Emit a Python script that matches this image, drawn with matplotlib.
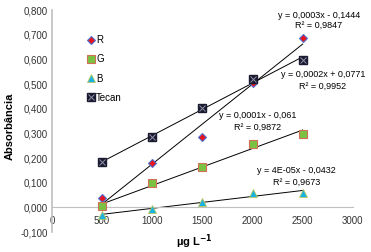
import numpy as np
import matplotlib
matplotlib.use("Agg")
import matplotlib.pyplot as plt
from matplotlib.legend_handler import HandlerTuple

conc = [500, 1000, 1500, 2000, 2500]
r_vals = [0.037, 0.179, 0.285, 0.504, 0.685]
g_vals = [0.004, 0.097, 0.163, 0.258, 0.298]
b_vals = [-0.030, -0.005, 0.020, 0.057, 0.060]
tecan_vals = [0.183, 0.285, 0.404, 0.520, 0.597]

eq_r = ("y = 0,0003x - 0,1444", "R² = 0,9847")
eq_g = ("y = 0,0001x - 0,061", "R² = 0,9872")
eq_b = ("y = 4E-05x - 0,0432", "R² = 0,9673")
eq_t = ("y = 0,0002x + 0,0771", "R² = 0,9952")

plt.rcParams['font.family'] = ['Liberation Sans', 'DejaVu Sans']

fig = plt.figure(figsize=(3.71, 2.52), dpi=100)
ax = fig.add_axes([0.140, 0.079, 0.811, 0.881])

x = np.array(conc)
xs = np.array([conc[0], conc[-1]])
for vals in (r_vals, g_vals, b_vals, tecan_vals):
    k, b = np.polyfit(x, vals, 1)
    ax.plot(xs, k * xs + b, color='black', lw=0.7, zorder=2)

hr, = ax.plot(conc, r_vals, ls='none', marker='D', ms=4.5, mfc='#e8141c',
              mec='#4f6fd0', mew=0.8, zorder=3)
hg, = ax.plot(conc, g_vals, ls='none', marker='s', ms=5.5, mfc='#7cc242',
              mec='#d0705a', mew=0.8, zorder=3)
hb, = ax.plot(conc, b_vals, ls='none', marker='^', ms=5.5, mfc='#1ab2e0',
              mec='#b8c860', mew=0.6, zorder=3)
ht1, = ax.plot(conc, tecan_vals, ls='none', marker='s', ms=5.5, mfc='#1a1a30',
               mec='#1a1a30', zorder=3)
ht2, = ax.plot(conc, tecan_vals, ls='none', marker='x', ms=4, mec='#9090a8',
               mew=0.7, zorder=4)

ax.legend([hr, hg, hb, (ht1, ht2)], ['R', 'G', 'B', 'Tecan'],
          handler_map={tuple: HandlerTuple(ndivide=1)},
          loc='upper left', bbox_to_anchor=(0.105, 0.905), frameon=False,
          fontsize=7, handlelength=0.7, handletextpad=0.2, labelspacing=0.95,
          borderaxespad=0)

fs = 6.5
ax.text(2660, 0.780, eq_r[0], ha='center', va='center', fontsize=fs)
ax.text(2660, 0.738, eq_r[1], ha='center', va='center', fontsize=fs)
ax.text(2700, 0.540, eq_t[0], ha='center', va='center', fontsize=fs)
ax.text(2700, 0.492, eq_t[1], ha='center', va='center', fontsize=fs)
ax.text(2050, 0.374, eq_g[0], ha='center', va='center', fontsize=fs)
ax.text(2050, 0.326, eq_g[1], ha='center', va='center', fontsize=fs)
ax.text(2440, 0.150, eq_b[0], ha='center', va='center', fontsize=fs)
ax.text(2440, 0.102, eq_b[1], ha='center', va='center', fontsize=fs)

ax.set_xlim(0, 3000)
ax.set_ylim(-0.1, 0.8)
ax.set_xticks([0, 500, 1000, 1500, 2000, 2500, 3000])
ax.set_yticks(np.arange(-0.1, 0.81, 0.1))
ax.set_yticklabels([f"{v:.3f}".replace('.', ',') for v in np.arange(-0.1, 0.81, 0.1)])
ax.spines['bottom'].set_position(('data', 0))
for s in ('top', 'right'):
    ax.spines[s].set_visible(False)
ax.spines['left'].set_color('#bfbfbf')
ax.spines['bottom'].set_color('#bfbfbf')
ax.spines['left'].set_linewidth(1.2)
ax.tick_params(axis='both', length=0, labelsize=7, colors='#333333', pad=3)
ax.tick_params(axis='x', pad=6)

fig.text(0.025, 0.5, 'Absorbância', rotation=90, ha='center', va='center',
         fontsize=8, fontweight='bold')
fig.text(0.525, 0.04, 'µg L$^{\\mathbf{-1}}$', ha='center', va='center',
         fontsize=8, fontweight='bold')

fig.savefig('out.png', dpi=100)
